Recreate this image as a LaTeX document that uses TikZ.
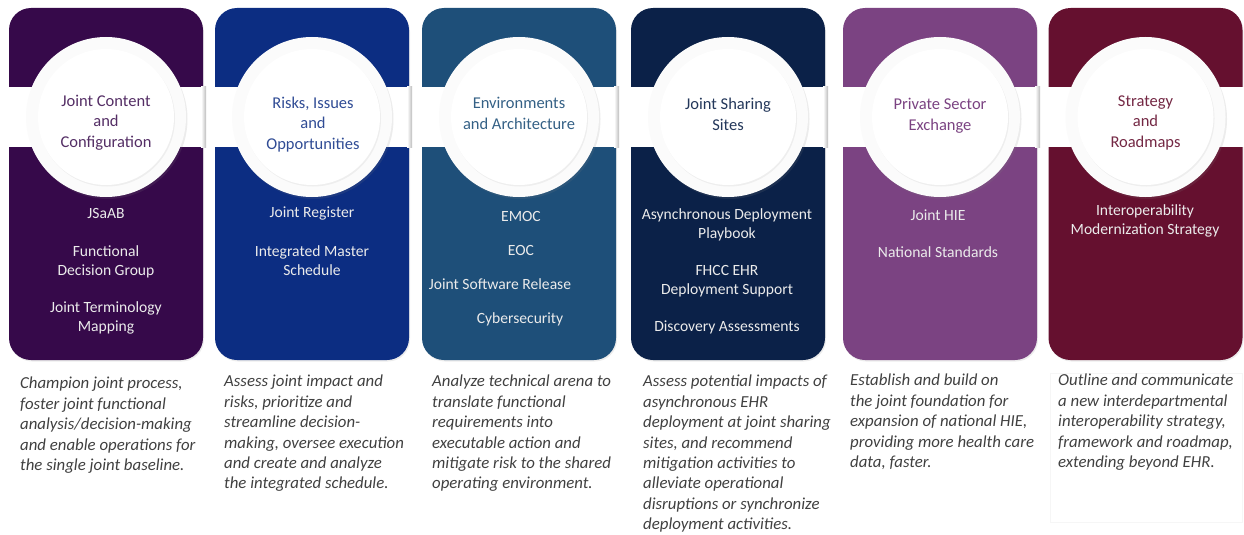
\documentclass[tikz,border=0pt]{standalone}
\usepackage{fontspec}
\setmainfont{Carlito}
\usepackage{tikz}
\usetikzlibrary{positioning, shadows}
\definecolor{jccpurple}{RGB}{54,9,74}
\definecolor{rioblue}{RGB}{12,45,130}
\definecolor{eaasteel}{RGB}{30,79,121}
\definecolor{jssnavy}{RGB}{11,33,72}
\definecolor{psemauve}{RGB}{123,67,130}
\definecolor{srmaroon}{RGB}{101,16,47}
\definecolor{blurbgray}{RGB}{64,64,64}
\tikzset{
  pillar/.style={rectangle, rounded corners=22pt, minimum width=194pt, minimum height=352pt, inner sep=0pt,
    drop shadow={shadow xshift=1pt, shadow yshift=-1.5pt, opacity=0.15}},
  band/.style={rectangle, fill=white, minimum width=197pt, minimum height=60pt, inner sep=0pt},
  bandshade/.style={left color=white, right color=gray!55},
  ring/.style={circle, fill=gray!3, minimum size=160pt, inner sep=0pt,
    drop shadow={shadow xshift=1.5pt, shadow yshift=-2pt, opacity=0.15}},
  disc/.style={circle, fill=white, minimum size=136pt, inner sep=0pt,
    drop shadow={shadow xshift=1pt, shadow yshift=-1.5pt, opacity=0.1}},
  title/.style={align=center, inner sep=0pt, font=\fontsize{16.5}{20.5}\selectfont},
  item/.style={align=center, inner sep=0pt, text=white!92!black, font=\fontsize{15.6}{19}\selectfont},
  blurb/.style={anchor=north west, align=left, inner sep=0pt, text=blurbgray, font=\itshape\fontsize{16.8}{20.4}\selectfont},
}

\begin{document}
\begin{tikzpicture}[x=1pt, y=-1pt]
  \useasboundingbox (0,0) rectangle (1244,535);

  % Joint Content and Configuration
  \node[pillar, fill=jccpurple] (jcc) at (106,184) {};
  \node[band] (jcc-band) at (107.5,117) {};
  \shade[bandshade] ([xshift=-5pt]jcc-band.north east) rectangle (jcc-band.south east);
  \node[ring] (jcc-ring) at (106,117) {};
  \node[disc] (jcc-disc) at (jcc-ring) {};
  \node[title, text=jccpurple!85!white] (jcc-title) at (106,122.5) {Joint Content\\and\\Configuration};
  \node[item] (jcc-a) at (106,213) {JSaAB};
  \node[item] (jcc-b) at (106,261.5) {Functional\\Decision Group};
  \node[item] (jcc-c) at (106,318) {Joint Terminology\\Mapping};
  \node[blurb] (jcc-text) at (20,377) {Champion joint process,\\foster joint functional\\analysis/decision-making\\and enable operations for\\the single joint baseline.};

  % Risks, Issues and Opportunities
  \node[pillar, fill=rioblue] (rio) at (312,184) {};
  \node[band] (rio-band) at (313.5,117) {};
  \shade[bandshade] ([xshift=-5pt]rio-band.north east) rectangle (rio-band.south east);
  \node[ring] (rio-ring) at (312,117) {};
  \node[disc] (rio-disc) at (rio-ring) {};
  \node[title, text=rioblue!85!white] (rio-title) at (313,124.5) {Risks, Issues\\and\\Opportunities};
  \node[item] (rio-a) at (312,213) {Joint Register};
  \node[item] (rio-b) at (312,261) {Integrated Master\\Schedule};
  \node[blurb] (rio-text) at (224,375) {Assess joint impact and\\risks, prioritize and\\streamline decision-\\making, oversee execution\\and create and analyze\\the integrated schedule.};

  % Environments and Architecture
  \node[pillar, fill=eaasteel] (eaa) at (519,184) {};
  \node[band] (eaa-band) at (520.5,117) {};
  \shade[bandshade] ([xshift=-5pt]eaa-band.north east) rectangle (eaa-band.south east);
  \node[ring] (eaa-ring) at (519,117) {};
  \node[disc] (eaa-disc) at (eaa-ring) {};
  \node[title, text=eaasteel!90!white] (eaa-title) at (519,113.5) {Environments\\and Architecture};
  \node[item] (eaa-a) at (521,216) {EMOC};
  \node[item] (eaa-b) at (521,250) {EOC};
  \node[item] (eaa-c) at (500,284) {Joint Software Release};
  \node[item] (eaa-d) at (520,319) {Cybersecurity};
  \node[blurb] (eaa-text) at (432,375) {Analyze technical arena to\\translate functional\\requirements into\\executable action and\\mitigate risk to the shared\\operating environment.};

  % Joint Sharing Sites
  \node[pillar, fill=jssnavy] (jss) at (728,184) {};
  \node[band] (jss-band) at (729.5,117) {};
  \shade[bandshade] ([xshift=-5pt]jss-band.north east) rectangle (jss-band.south east);
  \node[ring] (jss-ring) at (728,117) {};
  \node[disc] (jss-disc) at (jss-ring) {};
  \node[title, text=jssnavy!90!white] (jss-title) at (728,114.5) {Joint Sharing\\Sites};
  \node[item] (jss-a) at (727,224.5) {Asynchronous Deployment\\Playbook};
  \node[item] (jss-b) at (727,281) {FHCC EHR\\Deployment Support};
  \node[item] (jss-c) at (727,327) {Discovery Assessments};
  \node[blurb] (jss-text) at (643,375) {Assess potential impacts of\\asynchronous EHR\\deployment at joint sharing\\sites, and recommend\\mitigation activities to\\alleviate operational\\disruptions or synchronize\\deployment activities.};

  % Private Sector Exchange
  \node[pillar, fill=psemauve] (pse) at (940,184) {};
  \node[band] (pse-band) at (941.5,117) {};
  \shade[bandshade] ([xshift=-5pt]pse-band.north east) rectangle (pse-band.south east);
  \node[ring] (pse-ring) at (940,117) {};
  \node[disc] (pse-disc) at (pse-ring) {};
  \node[title, text=psemauve] (pse-title) at (940,115.5) {Private Sector\\Exchange};
  \node[item] (pse-a) at (938,215) {Joint HIE};
  \node[item] (pse-b) at (938,252) {National Standards};
  \node[blurb] (pse-text) at (850,374) {Establish and build on\\the joint foundation for\\expansion of national HIE,\\providing more health care\\data, faster.};

  % Strategy and Roadmaps
  \node[pillar, fill=srmaroon] (sr) at (1145.5,184) {};
  \node[band] (sr-band) at (1146,117) {};
  \node[ring] (sr-ring) at (1145.5,117) {};
  \node[disc] (sr-disc) at (sr-ring) {};
  \node[title, text=srmaroon!90!white] (sr-title) at (1145.5,122.5) {Strategy\\and\\Roadmaps};
  \node[item] (sr-a) at (1145,221) {Interoperability\\Modernization Strategy};
  \draw[gray!7, line width=0.6pt] (1050,373) rectangle (1242,522);
  \node[blurb] (sr-text) at (1058,374) {Outline and communicate\\a new interdepartmental\\interoperability strategy,\\framework and roadmap,\\extending beyond EHR.};
\end{tikzpicture}
\end{document}
